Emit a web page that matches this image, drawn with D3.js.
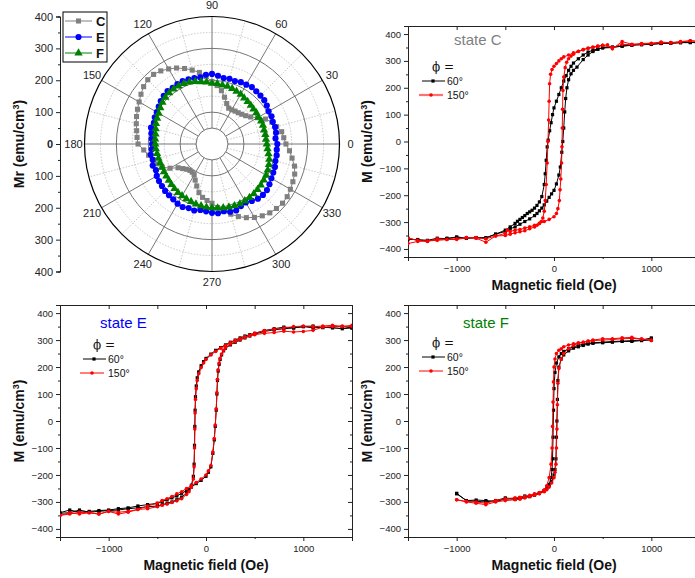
<!DOCTYPE html>
<html><head><meta charset="utf-8">
<script src="https://cdn.jsdelivr.net/npm/d3@7"></script>
<style>body{margin:0;background:#fff} svg{display:block;font-family:Arial,"Liberation Sans",sans-serif}</style>
</head><body><svg id="chart" width="695" height="578"></svg>
<script>
// ---------------- DATA ----------------
const polarAngles = [0,5,10,15,20,25,30,35,40,45,50,55,60,65,70,75,80,85,90,95,100,105,110,115,120,125,130,135,140,145,150,155,160,165,170,175,180,185,190,195,200,205,210,215,220,225,230,235,240,245,250,255,260,265,270,275,280,285,290,295,300,305,310,315,320,325,330,335,340,345,350,355];
const mrC = [232,226,222,210,200,185,165,148,138,132,128,126,124,124,135,152,170,184,196,212,228,240,252,263,272,280,285,285,280,272,264,258,252,246,240,236,232,215,202,192,182,172,152,130,120,112,108,108,112,125,140,158,170,178,186,200,215,228,242,255,266,275,282,286,289,288,284,280,276,268,255,244];
const mrE = [205,200,204,205,203,206,205,210,214,215,216,218,215,214,210,212,210,215,220,218,212,214,216,218,217,215,217,214,210,204,200,198,194,198,193,190,188,190,195,192,198,194,200,203,205,208,210,212,216,218,214,216,210,212,216,218,214,220,222,215,212,218,224,226,225,220,215,212,210,206,206,204];
const mrF = [172,170,170,169,170,170,168,170,170,172,174,176,180,182,185,187,188,190,190,195,198,203,207,209,210,210,209,207,203,198,193,190,187,183,180,179,178,177,175,174,173,173,174,175,177,180,183,186,188,190,192,195,197,199,200,202,203,205,206,207,206,205,204,202,200,198,196,193,190,186,180,175];
const polarSeries = ["C","E","F"];
const polarRadialTicks = [100,200,300,400];
const polarAngleLabels = [0,30,60,90,120,150,180,210,240,270,300,330];
const mrAxisTicks = [-400,-300,-200,-100,0,100,200,300,400];

const fieldTicks = [-1000,0,1000];
const mTicks = [-400,-300,-200,-100,0,100,200,300,400];
const phiLabels = ["60°","150°"];
const stateNames = ["state C","state E","state F"];

// state C  [H (Oe), M (emu/cm3)]
const c60Down = [[1500,365],[1400,370],[1300,368],[1200,366],[1100,365],[1000,362],[900,360],[800,358],[700,355],[600,350],[500,348],[450,345],[400,340],[350,333],[300,322],[250,308],[200,292],[175,280],[150,265],[125,245],[100,225],[75,200],[50,175],[25,150],[0,125],[-15,100],[-30,70],[-45,40],[-60,5],[-70,-20],[-80,-70],[-90,-120],[-100,-160],[-125,-205],[-150,-225],[-175,-238],[-200,-248],[-225,-256],[-250,-262],[-275,-268],[-300,-276],[-325,-283],[-350,-290],[-375,-297],[-400,-305],[-450,-318],[-500,-330],[-600,-345],[-700,-360],[-800,-358],[-900,-360],[-1000,-355],[-1100,-362],[-1200,-360],[-1300,-368],[-1400,-365],[-1500,-365]];
const c60Up = [[-1500,-360],[-1400,-368],[-1300,-370],[-1200,-365],[-1100,-360],[-1000,-358],[-900,-360],[-800,-358],[-700,-358],[-600,-345],[-500,-335],[-450,-325],[-400,-318],[-350,-308],[-300,-298],[-250,-288],[-200,-276],[-175,-268],[-150,-258],[-125,-248],[-100,-236],[-75,-222],[-50,-208],[-25,-195],[0,-182],[25,-158],[50,-125],[65,-95],[80,-40],[90,0],[100,50],[110,110],[120,160],[133,200],[150,230],[175,252],[200,265],[236,277],[300,305],[350,322],[400,335],[450,343],[500,350],[600,352],[700,355],[800,360],[900,362],[1000,362],[1100,365],[1200,366],[1300,368],[1400,368],[1500,370]];
const c150Down = [[1500,372],[1400,375],[1300,372],[1200,368],[1100,370],[1000,366],[900,365],[800,362],[700,372],[600,345],[550,360],[500,358],[450,355],[400,352],[350,348],[300,342],[250,336],[200,330],[150,322],[100,315],[75,308],[50,300],[25,290],[0,280],[-20,268],[-35,250],[-45,215],[-50,150],[-55,80],[-62,0],[-70,-80],[-80,-160],[-90,-220],[-100,-260],[-115,-285],[-130,-298],[-150,-305],[-175,-312],[-200,-318],[-250,-325],[-300,-332],[-350,-336],[-400,-340],[-450,-345],[-500,-350],[-600,-352],[-700,-375],[-800,-360],[-900,-358],[-1000,-365],[-1100,-365],[-1200,-368],[-1300,-370],[-1400,-372],[-1500,-380]];
const c150Up = [[-1500,-360],[-1400,-368],[-1300,-372],[-1200,-362],[-1100,-365],[-1000,-362],[-900,-358],[-800,-358],[-700,-362],[-600,-352],[-500,-342],[-480,-330],[-450,-335],[-400,-330],[-350,-328],[-300,-322],[-250,-318],[-200,-312],[-150,-305],[-100,-298],[-50,-290],[0,-280],[25,-268],[40,-250],[55,-220],[62,-180],[70,-140],[78,-80],[82,-20],[85,50],[88,120],[92,190],[100,240],[115,275],[130,295],[150,308],[175,318],[200,325],[250,335],[300,342],[350,346],[400,350],[450,354],[500,358],[600,350],[700,362],[800,360],[900,362],[1000,365],[1100,368],[1200,368],[1300,370],[1400,375],[1500,372]];

// state E
const e60Down = [[1500,345],[1400,350],[1300,348],[1200,346],[1100,352],[1000,350],[900,345],[800,348],[700,342],[600,335],[500,325],[450,320],[400,315],[350,308],[300,300],[250,292],[200,282],[150,272],[100,262],[50,248],[0,232],[-25,220],[-50,205],[-75,182],[-90,160],[-100,130],[-108,90],[-112,40],[-115,-20],[-118,-90],[-122,-160],[-130,-205],[-150,-238],[-175,-255],[-200,-268],[-250,-282],[-300,-292],[-350,-300],[-400,-305],[-450,-310],[-500,-315],[-600,-318],[-700,-322],[-800,-325],[-900,-330],[-1000,-332],[-1100,-335],[-1200,-338],[-1300,-330],[-1400,-340],[-1500,-342]];
const e60Up = [[-1500,-340],[-1400,-330],[-1300,-338],[-1200,-335],[-1100,-332],[-1000,-330],[-900,-325],[-800,-322],[-700,-315],[-600,-310],[-500,-305],[-450,-298],[-400,-292],[-350,-285],[-300,-278],[-250,-268],[-200,-258],[-150,-245],[-100,-232],[-50,-220],[0,-205],[25,-190],[50,-170],[70,-120],[85,-70],[95,-20],[105,40],[112,100],[118,150],[125,185],[135,210],[145,228],[160,245],[180,260],[200,270],[250,282],[300,292],[350,300],[400,308],[450,315],[500,322],[600,332],[700,338],[800,342],[900,345],[1000,350],[1100,345],[1200,348],[1300,345],[1400,342],[1500,345]];
const e150Down = [[1500,350],[1400,352],[1300,350],[1200,348],[1100,336],[1000,332],[900,330],[800,333],[700,328],[600,325],[500,320],[450,316],[400,312],[350,305],[300,298],[250,290],[200,280],[150,270],[100,258],[50,245],[0,228],[-25,215],[-50,198],[-75,175],[-90,150],[-100,120],[-108,80],[-112,30],[-115,-30],[-118,-100],[-122,-170],[-130,-215],[-150,-245],[-175,-262],[-200,-272],[-250,-288],[-300,-296],[-350,-302],[-400,-308],[-450,-312],[-500,-318],[-600,-325],[-700,-328],[-800,-338],[-900,-345],[-1000,-335],[-1100,-345],[-1200,-340],[-1300,-338],[-1400,-345],[-1500,-350]];
const e150Up = [[-1500,-350],[-1400,-340],[-1300,-345],[-1200,-340],[-1100,-345],[-1000,-335],[-900,-338],[-800,-335],[-700,-328],[-600,-315],[-500,-305],[-450,-295],[-400,-288],[-350,-280],[-300,-270],[-250,-262],[-200,-250],[-150,-240],[-100,-228],[-50,-215],[0,-200],[25,-185],[50,-165],[70,-115],[85,-65],[95,-15],[105,45],[112,105],[118,155],[125,190],[135,215],[145,232],[160,248],[180,262],[200,272],[250,285],[300,295],[350,302],[400,310],[450,318],[500,325],[600,335],[700,340],[800,345],[900,350],[1000,352],[1100,350],[1200,352],[1300,355],[1400,350],[1500,355]];

// state F
const f60Down = [[1000,308],[900,300],[800,298],[700,296],[600,295],[500,292],[400,290],[350,288],[300,285],[250,280],[200,275],[150,268],[100,258],[75,250],[50,238],[25,215],[10,180],[0,120],[-5,40],[-10,-60],[-15,-140],[-20,-180],[-30,-210],[-50,-235],[-75,-248],[-100,-258],[-150,-268],[-200,-275],[-250,-280],[-300,-283],[-350,-285],[-400,-288],[-500,-290],[-600,-298],[-700,-295],[-800,-293],[-900,-295],[-1000,-268]];
const f60Up = [[-1000,-270],[-900,-295],[-800,-298],[-700,-300],[-600,-295],[-500,-285],[-400,-290],[-350,-285],[-300,-278],[-250,-280],[-200,-272],[-150,-268],[-100,-258],[-75,-250],[-50,-240],[-25,-225],[0,-200],[10,-180],[20,-140],[25,-60],[30,0],[35,80],[40,150],[50,200],[75,230],[100,245],[150,260],[200,270],[250,275],[300,280],[350,285],[400,288],[500,290],[600,292],[700,295],[800,295],[900,298],[1000,300]];
const f150Down = [[1000,300],[900,303],[800,310],[700,308],[600,305],[500,305],[400,300],[350,296],[300,292],[250,290],[200,286],[150,282],[100,275],[75,268],[50,262],[25,250],[10,230],[0,200],[-5,145],[-10,70],[-15,-20],[-20,-100],[-30,-160],[-50,-210],[-75,-240],[-100,-255],[-150,-265],[-200,-270],[-250,-275],[-300,-280],[-350,-283],[-400,-285],[-500,-288],[-600,-295],[-700,-305],[-800,-300],[-900,-298],[-1000,-292]];
const f150Up = [[-1000,-292],[-900,-300],[-800,-305],[-700,-310],[-600,-300],[-500,-295],[-400,-292],[-350,-290],[-300,-285],[-250,-280],[-200,-275],[-150,-270],[-100,-262],[-75,-255],[-50,-245],[-25,-230],[0,-210],[10,-190],[20,-160],[25,-100],[30,-30],[35,60],[40,140],[50,195],[75,230],[100,250],[150,268],[200,280],[250,288],[300,292],[350,295],[400,298],[500,300],[600,302],[700,305],[800,306],[900,305],[1000,298]];

// ---------------- DRAW ----------------
const svg = d3.select("#chart");
const AX = "#222";
const fmt = d3.format("d");

// ---- Polar panel ----
(function(){
  const cx = 212, cy = 144, R = 127.5;
  const r = d3.scaleLinear().domain([0,400]).range([0,R]);
  const g = svg.append("g");
  const toXY = (deg, v) => [cx + r(v)*Math.cos(deg*Math.PI/180), cy - r(v)*Math.sin(deg*Math.PI/180)];
  [50,150,250,350].forEach(v => g.append("circle").attr("cx",cx).attr("cy",cy).attr("r",r(v))
     .attr("fill","none").attr("stroke","#bbb").attr("stroke-width",0.8).attr("stroke-dasharray","1.5,1.5"));
  d3.range(15,360,30).forEach(a => {
    const p0 = toXY(a,50), p1 = toXY(a,400);
    g.append("line").attr("x1",p0[0]).attr("y1",p0[1]).attr("x2",p1[0]).attr("y2",p1[1])
      .attr("stroke","#bbb").attr("stroke-width",0.8).attr("stroke-dasharray","1.5,1.5");
  });
  polarRadialTicks.slice(0,3).forEach(v => g.append("circle").attr("cx",cx).attr("cy",cy).attr("r",r(v))
     .attr("fill","none").attr("stroke","#666").attr("stroke-width",0.9));
  polarAngleLabels.forEach(a => {
    const p0 = toXY(a,50), p1 = toXY(a,400);
    g.append("line").attr("x1",p0[0]).attr("y1",p0[1]).attr("x2",p1[0]).attr("y2",p1[1])
      .attr("stroke","#666").attr("stroke-width",0.9);
  });
  g.append("circle").attr("cx",cx).attr("cy",cy).attr("r",r(50)).attr("fill","#fff").attr("stroke","#666").attr("stroke-width",0.9);
  g.append("circle").attr("cx",cx).attr("cy",cy).attr("r",r(400)).attr("fill","none").attr("stroke","#000").attr("stroke-width",1.2);
  polarAngleLabels.forEach(a => {
    const p = [cx + (R+11)*Math.cos(a*Math.PI/180), cy - (R+11)*Math.sin(a*Math.PI/180)];
    g.append("text").attr("x",p[0]).attr("y",p[1]).attr("dy","0.35em").attr("text-anchor","middle")
      .attr("font-size",11).attr("fill","#222").text(a);
  });
  const yS = d3.scaleLinear().domain([-400,400]).range([cy+R, cy-R]);
  const ax = g.append("g").attr("transform","translate(60,0)")
    .call(d3.axisLeft(yS).tickValues(mrAxisTicks).tickSize(4).tickPadding(3).tickFormat(d=>Math.abs(d)));
  ax.selectAll("text").attr("font-size",11).attr("fill","#222").style("font-family","Arial,Liberation Sans,sans-serif")
    .attr("font-weight",d=>d===0?"bold":"normal");
  ax.selectAll("line,path").attr("stroke",AX);
  g.append("g").attr("transform","translate(60,0)")
    .call(d3.axisLeft(yS).tickValues(d3.range(-350,400,100)).tickSize(2).tickFormat(""))
    .selectAll("line,path").attr("stroke",AX);
  g.append("text").attr("transform","translate(24,"+cy+") rotate(-90)").attr("text-anchor","middle")
    .attr("font-size",14).attr("font-weight","bold").attr("fill","#111")
    .html('Mr (emu/cm<tspan baseline-shift="super" font-size="9">3</tspan>)');

  const lr = d3.lineRadial().angle(d=> (90-d.a)*Math.PI/180).radius(d=>r(d.v)).curve(d3.curveLinearClosed);
  const series = [
    {name:"C", vals:mrC, color:"#808080", sym:d3.symbolSquare, size:26},
    {name:"E", vals:mrE, color:"#0000ff", sym:d3.symbolCircle, size:30},
    {name:"F", vals:mrF, color:"#008000", sym:d3.symbolTriangle, size:30}
  ];
  series.forEach(s => {
    const pts = polarAngles.map((a,i)=>({a:a, v:s.vals[i]}));
    g.append("path").attr("transform",`translate(${cx},${cy})`).attr("d",lr(pts))
      .attr("fill","none").attr("stroke",s.color).attr("stroke-width",1);
    g.selectAll(null).data(pts).enter().append("path")
      .attr("transform",d=>{const p=toXY(d.a,d.v); return `translate(${p[0]},${p[1]})`;})
      .attr("d",d3.symbol().type(s.sym).size(s.size)).attr("fill",s.color);
  });
  const lg = g.append("g");
  lg.append("rect").attr("x",63).attr("y",12).attr("width",44).attr("height",50).attr("fill","#fff").attr("stroke","#000").attr("stroke-width",1);
  series.forEach((s,i)=>{
    const yy = 21 + i*16;
    lg.append("line").attr("x1",65).attr("x2",92).attr("y1",yy).attr("y2",yy).attr("stroke",s.color).attr("stroke-width",1);
    lg.append("path").attr("transform",`translate(78.5,${yy})`).attr("d",d3.symbol().type(s.sym).size(s.size)).attr("fill",s.color);
    lg.append("text").attr("x",96).attr("y",yy).attr("dy","0.36em").attr("font-size",13).attr("font-weight","bold").attr("fill","#111").text(s.name);
  });
})();

// ---- hysteresis panels ----
function panel(o){
  const x = d3.scaleLinear().domain([-1500,1500]).range([o.left,o.right]);
  const y = d3.scaleLinear().domain([-430,430]).range([o.bottom,o.top]);
  const g = svg.append("g");
  const id = "clip"+o.key;
  g.append("clipPath").attr("id",id).append("rect").attr("x",o.left).attr("y",o.top).attr("width",o.right-o.left).attr("height",o.bottom-o.top);
  const styleAx = sel => { sel.selectAll("line,path").attr("stroke",AX); sel.selectAll("text").attr("font-size",9.5).attr("fill","#222").style("font-family","Arial,Liberation Sans,sans-serif"); };
  g.append("g").attr("transform",`translate(0,${o.bottom})`).call(d3.axisBottom(x).tickValues(fieldTicks).tickSize(4).tickPadding(4).tickFormat(fmt)).call(styleAx);
  g.append("g").attr("transform",`translate(0,${o.bottom})`).call(d3.axisBottom(x).tickValues([-500,500]).tickSize(2).tickFormat("")).call(styleAx);
  g.append("g").attr("transform",`translate(0,${o.top})`).call(d3.axisBottom(x).tickValues([-1000,-500,0,500,1000]).tickSize(4).tickFormat("")).call(styleAx);
  g.append("g").attr("transform",`translate(${o.left},0)`).call(d3.axisLeft(y).tickValues(mTicks).tickSize(4).tickPadding(3).tickFormat(fmt)).call(styleAx);
  g.append("g").attr("transform",`translate(${o.left},0)`).call(d3.axisLeft(y).tickValues(d3.range(-350,400,100)).tickSize(2).tickFormat("")).call(styleAx);
  g.append("g").attr("transform",`translate(${o.right},0)`).call(d3.axisRight(y).tickValues(mTicks).tickSize(-4).tickFormat("")).call(styleAx);
  g.append("g").attr("transform",`translate(${o.right},0)`).call(d3.axisRight(y).tickValues(d3.range(-350,400,100)).tickSize(-2).tickFormat("")).call(styleAx);
  g.selectAll(".domain").attr("stroke",AX).attr("stroke-width",1);

  const line = d3.line().x(d=>x(d[0])).y(d=>y(d[1]));
  const data = g.append("g").attr("clip-path",`url(#${id})`);
  const drawSeries = (branches,color,isSquare) => {
    branches.forEach(b=>{
      data.append("path").attr("d",line(b)).attr("fill","none").attr("stroke",color).attr("stroke-width",1);
      const sel = data.selectAll(null).data(b).enter();
      if(isSquare) sel.append("rect").attr("x",d=>x(d[0])-1.6).attr("y",d=>y(d[1])-1.6).attr("width",3.2).attr("height",3.2).attr("fill",color);
      else sel.append("circle").attr("cx",d=>x(d[0])).attr("cy",d=>y(d[1])).attr("r",1.8).attr("fill",color);
    });
  };
  drawSeries(o.black,"#000",true);
  drawSeries(o.red,"#ff0000",false);

  g.append("text").attr("x",x(0)).attr("y",o.bottom+33).attr("text-anchor","middle")
   .attr("font-size",14).attr("font-weight","bold").attr("fill","#111").text("Magnetic field (Oe)");
  g.append("text").attr("transform",`translate(${o.left-36},${y(0)}) rotate(-90)`).attr("text-anchor","middle")
   .attr("font-size",14).attr("font-weight","bold").attr("fill","#111")
   .html('M (emu/cm<tspan baseline-shift="super" font-size="9">3</tspan>)');
  g.append("text").attr("x",o.left+o.lab[0]).attr("y",o.top+o.lab[1]).attr("font-size",15).attr("fill",o.stateColor).text(o.state);
  g.append("text").attr("x",o.left+o.leg[0]+24).attr("y",o.top+o.leg[1]).attr("font-size",12).attr("fill","#111")
   .style("font-family","'DejaVu Serif',serif").text("\u03d5 =");
  const legY1 = o.top+o.leg[1]+10, legY2 = o.top+o.leg[1]+24;
  g.append("line").attr("x1",o.left+o.leg[0]+14).attr("x2",o.left+o.leg[0]+37).attr("y1",legY1).attr("y2",legY1).attr("stroke","#000").attr("stroke-width",1);
  g.append("rect").attr("x",o.left+o.leg[0]+25-1.6).attr("y",legY1-1.6).attr("width",3.2).attr("height",3.2).attr("fill","#000");
  g.append("text").attr("x",o.left+o.leg[0]+39).attr("y",legY1).attr("dy","0.35em").attr("font-size",10.5).attr("fill","#111").text(phiLabels[0]);
  g.append("line").attr("x1",o.left+o.leg[0]+11).attr("x2",o.left+o.leg[0]+35).attr("y1",legY2).attr("y2",legY2).attr("stroke",o.key==="C"?"#ff7070":"#ff0000").attr("stroke-width",o.key==="C"?2.2:1);
  g.append("circle").attr("cx",o.left+o.leg[0]+23).attr("cy",legY2).attr("r",1.8).attr("fill","#ff0000");
  g.append("text").attr("x",o.left+o.leg[0]+39).attr("y",legY2).attr("dy","0.35em").attr("font-size",10.5).attr("fill","#111").text(phiLabels[1]);
}

panel({key:"C", left:408, right:700, top:26, bottom:257, black:[c60Down,c60Up], red:[c150Down,c150Up],
  state:stateNames[0], stateColor:"#808080", lab:[46,19], leg:[0,45]});
panel({key:"E", left:60, right:352, top:305, bottom:537, black:[e60Down,e60Up], red:[e150Down,e150Up],
  state:stateNames[1], stateColor:"#0000ff", lab:[40,23], leg:[9,44]});
panel({key:"F", left:408, right:700, top:305, bottom:537, black:[f60Down,f60Up], red:[f150Down,f150Up],
  state:stateNames[2], stateColor:"#008000", lab:[55,23], leg:[0,42]});
</script></body></html>
